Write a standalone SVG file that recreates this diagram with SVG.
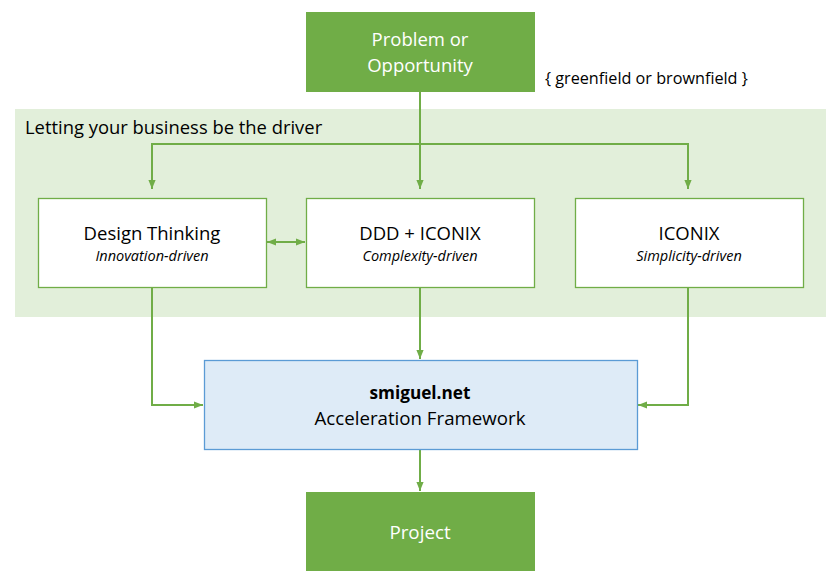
<svg xmlns="http://www.w3.org/2000/svg" width="834" height="583" viewBox="0 0 834 583">
<defs>
<marker id="ah" viewBox="0 0 10 10" refX="10" refY="5" markerWidth="9" markerHeight="9" markerUnits="userSpaceOnUse" orient="auto-start-reverse">
<path d="M0,1 L10,5 L0,9 z" fill="#70AD47"/>
</marker>
<style>
.t{font-family:"Open Sans","Noto Sans","Liberation Sans",sans-serif;fill:#000}
.w{fill:#fff}
.c{text-anchor:middle}
.i{font-style:italic;font-size:14.5px}
.box{fill:#fff;stroke:#70AD47;stroke-width:1.3}
.g{fill:#70AD47}
.ln{fill:none;stroke:#70AD47;stroke-width:2}
</style>
</defs>
<rect width="834" height="583" fill="#fff"/>
<rect id="band" x="15" y="109" width="811" height="208" fill="#E2EFDA"/>
<text class="t" x="25" y="134" font-size="18.4">Letting your business be the driver</text>
<g id="connectors">
<path class="ln" d="M420,92 V189" marker-end="url(#ah)"/>
<path class="ln" d="M152,189 V144 H688 V189" marker-start="url(#ah)" marker-end="url(#ah)"/>
<path class="ln" d="M267,242 H305" marker-start="url(#ah)" marker-end="url(#ah)"/>
<path class="ln" d="M152,287 V405 H203" marker-end="url(#ah)"/>
<path class="ln" d="M420,287 V359" marker-end="url(#ah)"/>
<path class="ln" d="M688,287 V405 H638" marker-end="url(#ah)"/>
<path class="ln" d="M420,449 V491" marker-end="url(#ah)"/>
</g>
<g id="problem">
<rect class="g" x="306" y="12" width="229" height="80"/>
<text class="t w c" x="420" y="46" font-size="18.5">Problem or</text>
<text class="t w c" x="420" y="72" font-size="18.5">Opportunity</text>
</g>
<text class="t" x="545" y="84" font-size="16.2">{ greenfield or brownfield }</text>
<g id="design">
<rect class="box" x="38.5" y="198.5" width="228" height="89"/>
<text class="t c" x="152" y="240" font-size="18.5">Design Thinking</text>
<text class="t c i" x="152" y="261">Innovation-driven</text>
</g>
<g id="ddd">
<rect class="box" x="306.5" y="198.5" width="228" height="89"/>
<text class="t c" x="420" y="240" font-size="18.5">DDD + ICONIX</text>
<text class="t c i" x="420" y="261">Complexity-driven</text>
</g>
<g id="iconix">
<rect class="box" x="575.5" y="198.5" width="228" height="89"/>
<text class="t c" x="689" y="240" font-size="18.5">ICONIX</text>
<text class="t c i" x="689" y="261">Simplicity-driven</text>
</g>
<g id="smiguel">
<rect x="204.5" y="360.5" width="433" height="89" fill="#DEEBF7" stroke="#5B9BD5" stroke-width="1.3"/>
<text class="t c" x="420" y="399" font-size="17.2" font-weight="bold">smiguel.net</text>
<text class="t c" x="420" y="425" font-size="18.7">Acceleration Framework</text>
</g>
<g id="project">
<rect class="g" x="306" y="492" width="229" height="79"/>
<text class="t w c" x="420" y="539" font-size="18.8">Project</text>
</g>
</svg>
